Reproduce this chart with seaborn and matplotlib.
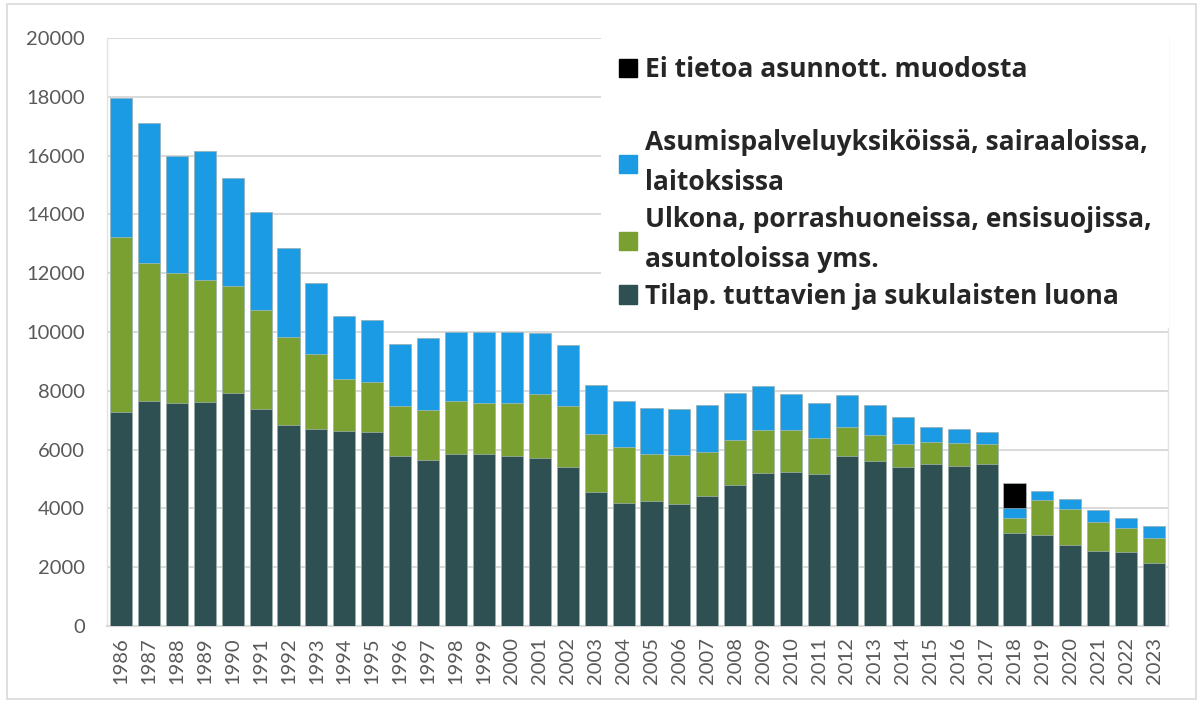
import pandas as pd
import matplotlib.pyplot as plt
import seaborn as sns
from matplotlib.patches import Patch, Rectangle

years = list(range(1986, 2024))

# Tilap. tuttavien ja sukulaisten luona
tilap = [7280, 7650, 7580, 7620, 7940, 7390, 6820, 6710, 6630, 6590,
         5780, 5640, 5840, 5840, 5770, 5700, 5400, 4550, 4170, 4240,
         4160, 4430, 4780, 5190, 5240, 5160, 5770, 5600, 5400, 5500,
         5430, 5510, 3150, 3100, 2750, 2560, 2530, 2130]
# Ulkona, porrashuoneissa, ensisuojissa, asuntoloissa yms.
ulkona = [5960, 4700, 4410, 4160, 3620, 3360, 3010, 2550, 1760, 1710,
          1710, 1720, 1800, 1750, 1810, 2180, 2080, 1980, 1930, 1610,
          1660, 1500, 1550, 1470, 1440, 1240, 990, 890, 780, 760,
          790, 680, 520, 1180, 1220, 970, 810, 870]
# Asumispalveluyksiköissä, sairaaloissa, laitoksissa
asumis = [4720, 4750, 4010, 4390, 3680, 3330, 3030, 2400, 2160, 2120,
          2110, 2450, 2350, 2400, 2420, 2070, 2080, 1650, 1550, 1570,
          1570, 1590, 1610, 1490, 1200, 1170, 1080, 1010, 920, 510,
          470, 410, 350, 310, 350, 400, 330, 400]
# Ei tietoa asunnott. muodosta
ei_tietoa = [0] * 32 + [860] + [0] * 5

labels = ['Tilap. tuttavien ja sukulaisten luona',
          'Ulkona, porrashuoneissa, ensisuojissa,\nasuntoloissa yms.',
          'Asumispalveluyksiköissä, sairaaloissa,\nlaitoksissa',
          'Ei tietoa asunnott. muodosta']
colors = ['#2f5052', '#7aa031', '#1a9be3', '#000000']

df = pd.DataFrame({'vuosi': [str(y) for y in years],
                   'tilap': tilap, 'ulkona': ulkona,
                   'asumis': asumis, 'ei': ei_tietoa})
# kumulatiiviset summat pinottua pylväskuvaa varten
df['c1'] = df['tilap']
df['c2'] = df['c1'] + df['ulkona']
df['c3'] = df['c2'] + df['asumis']
df['c4'] = df['c3'] + df['ei']

sns.set_theme(style="white")
plt.rcParams['font.family'] = ['Lato', 'DejaVu Sans']

fig = plt.figure(figsize=(12.02, 7.02), dpi=100)
ax = fig.add_axes([0.089, 0.1083, 0.8828, 0.8376])

# piirretään ylimmästä alaspäin, jotta alemmat kerrokset peittävät ylemmät
for col, color in zip(['c4', 'c3', 'c2', 'c1'], colors[::-1]):
    sns.barplot(data=df, x='vuosi', y=col, color=color, width=0.79,
                saturation=1, edgecolor='#bcc9c9', linewidth=0.4, ax=ax, zorder=3)

ax.set_ylim(0, 20000)
ax.set_xlim(-0.5, len(years) - 0.5)
ax.set_yticks(range(0, 20001, 2000))
ax.set_xlabel('')
ax.set_ylabel('')
ax.yaxis.grid(True, color='#d9d9d9', linewidth=1.4, zorder=0)
ax.set_axisbelow(True)
ax.tick_params(axis='y', length=0, pad=16, labelsize=14.5, labelcolor='#595959')
ax.tick_params(axis='x', length=0, pad=8, labelsize=14.5, labelcolor='#595959',
               labelrotation=90)
for side in ['left', 'right']:
    ax.spines[side].set_color('#e3e3e3')
    ax.spines[side].set_linewidth(1.0)
ax.spines['top'].set_visible(False)
ax.spines['bottom'].set_color('#d9d9d9')
ax.spines['bottom'].set_linewidth(1.6)

handles = [Patch(color=colors[3]), Patch(visible=False),
           Patch(color=colors[2]), Patch(color=colors[1]), Patch(color=colors[0])]
leg_labels = [labels[3], ' ', labels[2], labels[1], labels[0]]
leg = ax.legend(handles, leg_labels, loc='upper left', bbox_to_anchor=(0.466, 1.0),
                frameon=True, facecolor='white', edgecolor='none', framealpha=1,
                fancybox=False, handlelength=0.68, handleheight=0.68, handletextpad=0.28,
                labelspacing=0.36, borderpad=0.68, borderaxespad=0,
                prop={'family': 'Open Sans', 'weight': 'bold', 'size': 19})
for t in leg.get_texts():
    t.set_linespacing(1.64)
leg.set_zorder(5)

fig.patches.append(Rectangle((0.006, 0.004), 0.989, 0.99, transform=fig.transFigure,
                             fill=False, edgecolor='#d9d9d9', linewidth=1.2))

plt.savefig('out.png', dpi=100)
